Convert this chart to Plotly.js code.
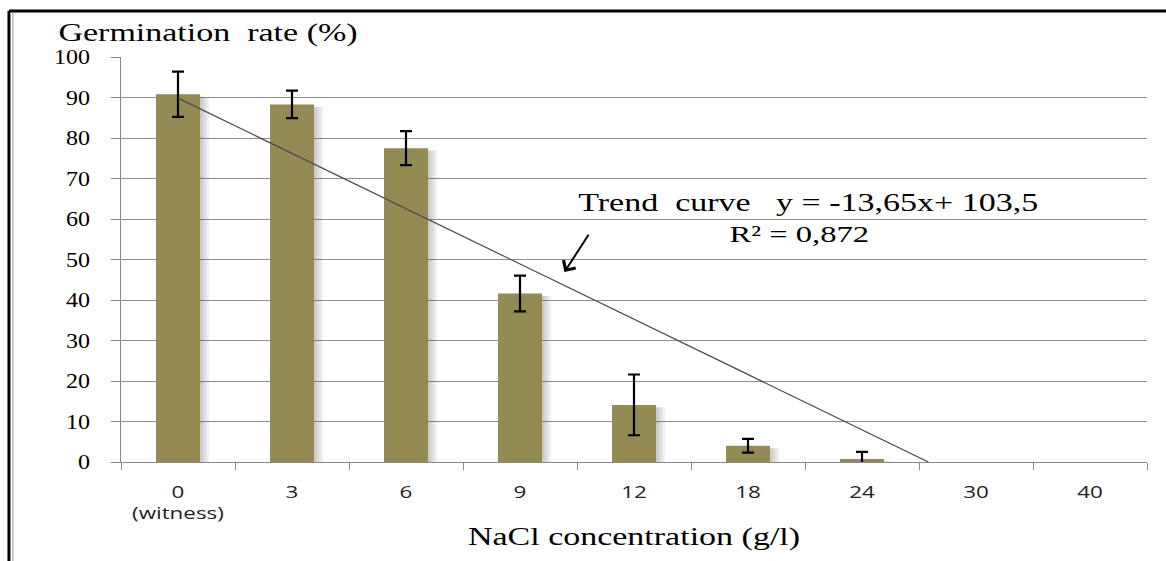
<!DOCTYPE html>
<html>
<head>
<meta charset="utf-8">
<script src="https://cdn.plot.ly/plotly-3.0.1.min.js"></script>
<style>
  html, body { margin: 0; padding: 0; background: #fff; }
  #chart { width: 1166px; height: 561px; }
</style>
</head>
<body>
<div id="chart"></div>
<script>
// ---- data ----
const categories = ['0<br>(witness)', '3', '6', '9', '12', '18', '24', '30', '40'];
const germinationRate = [90.8, 88.3, 77.5, 41.6, 14.1, 4.0, 0.75, 0, 0];
const errorValues = [5.6, 3.4, 4.2, 4.4, 7.5, 1.7, 1.75, 0, 0];
const trendSlope = -13.65;
const trendIntercept = 103.5;
const yTickValues = [0, 10, 20, 30, 40, 50, 60, 70, 80, 90, 100];

// ---- derived ----
const idx = categories.map((_, i) => i);
const barColor = '#948A54';
const serif = 'Liberation Serif, Times New Roman, serif';
const sans = 'Open Sans, Noto Sans, sans-serif';
const barWidth = 0.386;

const traces = [];

// soft shadow on the right of each bar
[1, 2, 3, 4].forEach(k => {
  traces.push({
    type: 'bar', x: idx, y: germinationRate.map(v => v > 0 ? Math.max(v - 0.6, 0) : 0),
    width: barWidth, offset: -barWidth / 2 + k * 0.02,
    marker: { color: 'rgba(60,60,60,0.07)', line: { width: 0 } },
    hoverinfo: 'skip', showlegend: false
  });
});

// main bars
traces.push({
  type: 'bar', x: idx, y: germinationRate,
  width: barWidth,
  marker: { color: barColor, line: { width: 0 } },
  showlegend: false
});

// error bars (only where there is one)
const errIdx = idx.filter(i => errorValues[i] > 0);
traces.push({
  type: 'scatter', mode: 'markers',
  x: errIdx, y: errIdx.map(i => germinationRate[i]),
  marker: { size: 1, opacity: 0 },
  error_y: { type: 'data', array: errIdx.map(i => errorValues[i]), visible: true,
             color: '#000', thickness: 2.2, width: 6 },
  hoverinfo: 'skip', showlegend: false
});

// linear trend line (Excel x = index + 1), drawn until it reaches 0
const xEnd = -trendIntercept / trendSlope - 1;
traces.push({
  type: 'scatter', mode: 'lines',
  x: [0, xEnd],
  y: [trendSlope * 1 + trendIntercept, 0],
  line: { color: '#4a4a4a', width: 1.2 },
  hoverinfo: 'skip', showlegend: false
});

// boundary ticks on a second x axis
traces.push({
  type: 'scatter', mode: 'markers', x: [0], y: [0], xaxis: 'x2',
  marker: { opacity: 0 }, hoverinfo: 'skip', showlegend: false
});

const nbsp = '\u00a0';
const layout = {
  width: 1166, height: 561,
  margin: { l: 121, r: 19, t: 57, b: 99 },
  paper_bgcolor: '#fff', plot_bgcolor: '#fff',
  barmode: 'overlay',
  showlegend: false,
  font: { family: serif },
  xaxis: {
    range: [-0.5, 8.5],
    tickvals: idx, ticktext: categories,
    ticks: 'outside', ticklen: 16, tickcolor: 'rgba(0,0,0,0)',
    showgrid: false, zeroline: false,
    showline: false,
    tickfont: { family: sans, size: 16, color: '#222' },
    title: { text: 'NaCl concentration (g/l)', font: { family: serif, size: 25, color: '#000' }, standoff: 4 },
    fixedrange: true
  },
  xaxis2: {
    overlaying: 'x', side: 'bottom', anchor: 'y',
    range: [-0.5, 8.5],
    tickvals: idx.concat([categories.length]).map(i => i - 0.5),
    showticklabels: false,
    ticks: 'outside', ticklen: 7, tickcolor: '#8a8a8a', tickwidth: 1,
    showline: true, linecolor: '#8a8a8a', linewidth: 1,
    showgrid: false, zeroline: false
  },
  yaxis: {
    range: [0, 100],
    tickvals: yTickValues,
    ticks: 'outside', ticklen: 9, tickcolor: '#8a8a8a',
    showgrid: true, gridcolor: '#8f8f8f', gridwidth: 1,
    zeroline: false,
    showline: true, linecolor: '#8a8a8a', linewidth: 1,
    tickfont: { family: serif, size: 20, color: '#000' },
    ticklabelstandoff: 17,
    fixedrange: true
  },
  annotations: [
    { xref: 'paper', yref: 'paper', x: 0.085, y: 1.06, xanchor: 'center', yanchor: 'middle',
      text: 'Germination' + nbsp + nbsp + 'rate' + nbsp + '(%)', showarrow: false,
      font: { family: serif, size: 25, color: '#000' } },
    { xref: 'x', yref: 'y', x: 5.53, y: 64.0, xanchor: 'center', yanchor: 'middle',
      text: 'Trend' + nbsp + nbsp + 'curve' + nbsp + nbsp + nbsp + 'y = -13,65x+ 103,5', showarrow: false,
      font: { family: serif, size: 25, color: '#000' } },
    { xref: 'x', yref: 'y', x: 5.45, y: 56.3, xanchor: 'center', yanchor: 'middle',
      text: 'R² = 0,872', showarrow: false,
      font: { family: serif, size: 24, color: '#000' } },
    { xref: 'x', yref: 'y', x: 3.39, y: 46.9, axref: 'x', ayref: 'y', ax: 3.61, ay: 56.5,
      text: '', showarrow: true, arrowhead: 4, arrowsize: 1.4, arrowwidth: 2, arrowcolor: '#000' }
  ],
  shapes: [
    { type: 'line', xref: 'paper', yref: 'paper', x0: -0.1092, x1: 1.05, y0: 1.1136, y1: 1.1136,
      line: { color: '#000', width: 3 } },
    { type: 'line', xref: 'paper', yref: 'paper', x0: -0.1092, x1: -0.1092, y0: 1.1136, y1: -0.26,
      line: { color: '#000', width: 3 } },
    { type: 'line', xref: 'paper', yref: 'paper', x0: -0.1054, x1: -0.1054, y0: 1.11, y1: -0.26,
      line: { color: '#9a9a9a', width: 1 } }
  ]
};

// the reference picture is stretched horizontally: widen the text the same way
function stretchText(nodes, s, mode) {
  nodes.forEach(el => {
    const b = el.getBBox();
    if (!b.width) return;
    const cx = mode === 'end' ? b.x + b.width : b.x + b.width / 2;
    const t = el.getAttribute('transform') || '';
    el.setAttribute('transform', t + ' translate(' + cx + ',0) scale(' + s + ',1) translate(' + (-cx) + ',0)');
  });
}

Plotly.newPlot('chart', traces, layout, { staticPlot: true, displayModeBar: false }).then(gd => {
  const q = sel => Array.from(gd.querySelectorAll(sel));
  stretchText(q('.annotation-text'), 1.36, 'center');
  stretchText(q('.xtitle'), 1.36, 'center');
  stretchText(q('.ytick text'), 1.2, 'end');
  stretchText(q('.xtick text'), 1.4, 'center');
});
</script>
</body>
</html>
